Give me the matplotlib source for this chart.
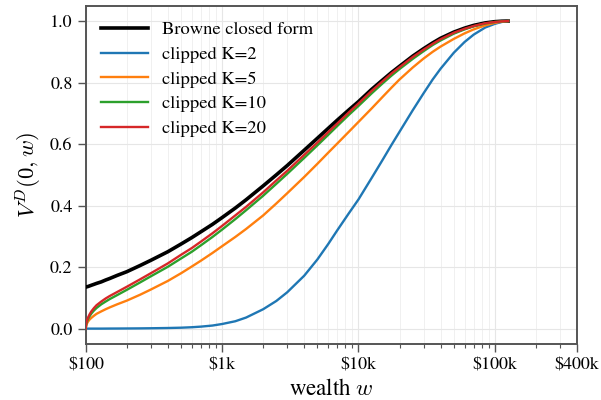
import numpy as np
import matplotlib
matplotlib.use('Agg')
import matplotlib.pyplot as plt
from matplotlib.ticker import FixedLocator, LogLocator, NullFormatter

# ==== Data ====
wealth = [100, 101, 102, 104, 107, 110, 115, 120, 130, 140, 150, 170, 200, 250,
          300, 400, 500, 600, 700, 850, 1000, 1250, 1500, 2000, 2500, 3000,
          4000, 5000, 6000, 7000, 8500, 10000, 12500, 15000, 17500, 20000,
          25000, 30000, 35000, 40000, 50000, 60000, 70000, 85000, 100000,
          112000, 125000]

browne = [0.135, 0.136, 0.136, 0.137, 0.139, 0.141, 0.144, 0.147, 0.152, 0.158,
          0.163, 0.173, 0.185, 0.205, 0.222, 0.250, 0.275, 0.296, 0.315, 0.339,
          0.361, 0.392, 0.419, 0.464, 0.500, 0.530, 0.580, 0.619, 0.651, 0.678,
          0.711, 0.738, 0.778, 0.808, 0.833, 0.853, 0.886, 0.910, 0.929, 0.944,
          0.964, 0.977, 0.986, 0.994, 0.998, 0.9995, 1.000]
clip_k2 = [0.0, 0.0, 0.0, 0.0, 0.0, 0.0, 0.0, 0.0, 0.0, 0.0001,
           0.0002, 0.0003, 0.0005, 0.0008, 0.0012, 0.002, 0.003, 0.0045, 0.0065, 0.010,
           0.015, 0.024, 0.036, 0.063, 0.090, 0.118, 0.172, 0.225, 0.275, 0.320,
           0.375, 0.420, 0.490, 0.548, 0.598, 0.640, 0.710, 0.765, 0.810, 0.845,
           0.897, 0.932, 0.956, 0.979, 0.991, 0.997, 1.000]
clip_k5 = [0.0, 0.011, 0.016, 0.023, 0.030, 0.035, 0.042, 0.048, 0.056, 0.063,
           0.069, 0.079, 0.091, 0.110, 0.127, 0.155, 0.180, 0.202, 0.221, 0.246,
           0.268, 0.298, 0.324, 0.368, 0.407, 0.440, 0.493, 0.536, 0.572, 0.602,
           0.640, 0.672, 0.716, 0.753, 0.784, 0.810, 0.849, 0.878, 0.900, 0.917,
           0.942, 0.960, 0.973, 0.986, 0.994, 0.998, 1.000]
clip_k10 = [0.0, 0.015, 0.022, 0.031, 0.041, 0.049, 0.059, 0.067, 0.079, 0.088,
            0.096, 0.109, 0.126, 0.150, 0.170, 0.201, 0.228, 0.250, 0.271, 0.298,
            0.322, 0.356, 0.385, 0.432, 0.471, 0.503, 0.555, 0.596, 0.630, 0.659,
            0.695, 0.724, 0.765, 0.797, 0.823, 0.844, 0.877, 0.902, 0.922, 0.937,
            0.959, 0.973, 0.983, 0.992, 0.997, 0.999, 1.000]
clip_k20 = [0.0, 0.018, 0.026, 0.036, 0.047, 0.056, 0.067, 0.076, 0.088, 0.098,
            0.106, 0.119, 0.136, 0.160, 0.180, 0.212, 0.240, 0.262, 0.283, 0.310,
            0.334, 0.368, 0.396, 0.443, 0.482, 0.513, 0.565, 0.605, 0.639, 0.667,
            0.703, 0.732, 0.773, 0.804, 0.830, 0.850, 0.883, 0.907, 0.926, 0.941,
            0.962, 0.975, 0.984, 0.993, 0.997, 0.999, 1.000]

xtick_vals = [100, 1000, 10000, 100000, 400000]
xtick_labels = ['\\$100', '\\$1k', '\\$10k', '\\$100k', '\\$400k']

# ==== Style ====
plt.rcParams['font.family'] = ['STIXGeneral', 'DejaVu Serif']
plt.rcParams['mathtext.fontset'] = 'cm'

fig = plt.figure(figsize=(6.01, 4.0), dpi=100)
ax = fig.add_axes([0.1426, 0.14, 0.8174, 0.8458])

ax.plot(wealth, browne, color='black', lw=2.6, label='Browne closed form', zorder=3)
ax.plot(wealth, clip_k2, color='#1f77b4', lw=1.7, label='clipped K=2', zorder=4)
ax.plot(wealth, clip_k5, color='#ff7f0e', lw=1.7, label='clipped K=5', zorder=4)
ax.plot(wealth, clip_k10, color='#2ca02c', lw=1.7, label='clipped K=10', zorder=4)
ax.plot(wealth, clip_k20, color='#d62728', lw=1.7, label='clipped K=20', zorder=4)

ax.set_xscale('log')
ax.set_xlim(100, 400000)
ax.set_ylim(-0.05, 1.05)

ax.xaxis.set_major_locator(FixedLocator(xtick_vals))
ax.set_xticklabels(xtick_labels)
ax.xaxis.set_minor_locator(LogLocator(base=10, subs=np.arange(2, 10), numticks=20))
ax.xaxis.set_minor_formatter(NullFormatter())
ax.set_yticks([0.0, 0.2, 0.4, 0.6, 0.8, 1.0])
ax.set_yticklabels(['0.0', '0.2', '0.4', '0.6', '0.8', '1.0'])

ax.tick_params(axis='both', which='major', labelsize=13, length=6, width=1.0,
               color='#555555', direction='out')
ax.tick_params(axis='x', which='minor', length=3, width=0.8, color='#555555')

ax.grid(True, which='major', color='#e6e6e6', lw=0.8)
ax.grid(True, which='minor', axis='x', color='#eeeeee', lw=0.6)
ax.set_axisbelow(True)

for sp in ax.spines.values():
    sp.set_color('#555555')
    sp.set_linewidth(1.4)

ax.set_xlabel('wealth $w$', fontsize=16.5)
ax.set_ylabel('$V^D(0,w)$', fontsize=16.5)

ax.legend(loc='upper left', frameon=False, fontsize=13.3, handlelength=2.5,
          handletextpad=0.8, labelspacing=0.42, borderaxespad=0.45)

fig.savefig('out.png', dpi=100)
